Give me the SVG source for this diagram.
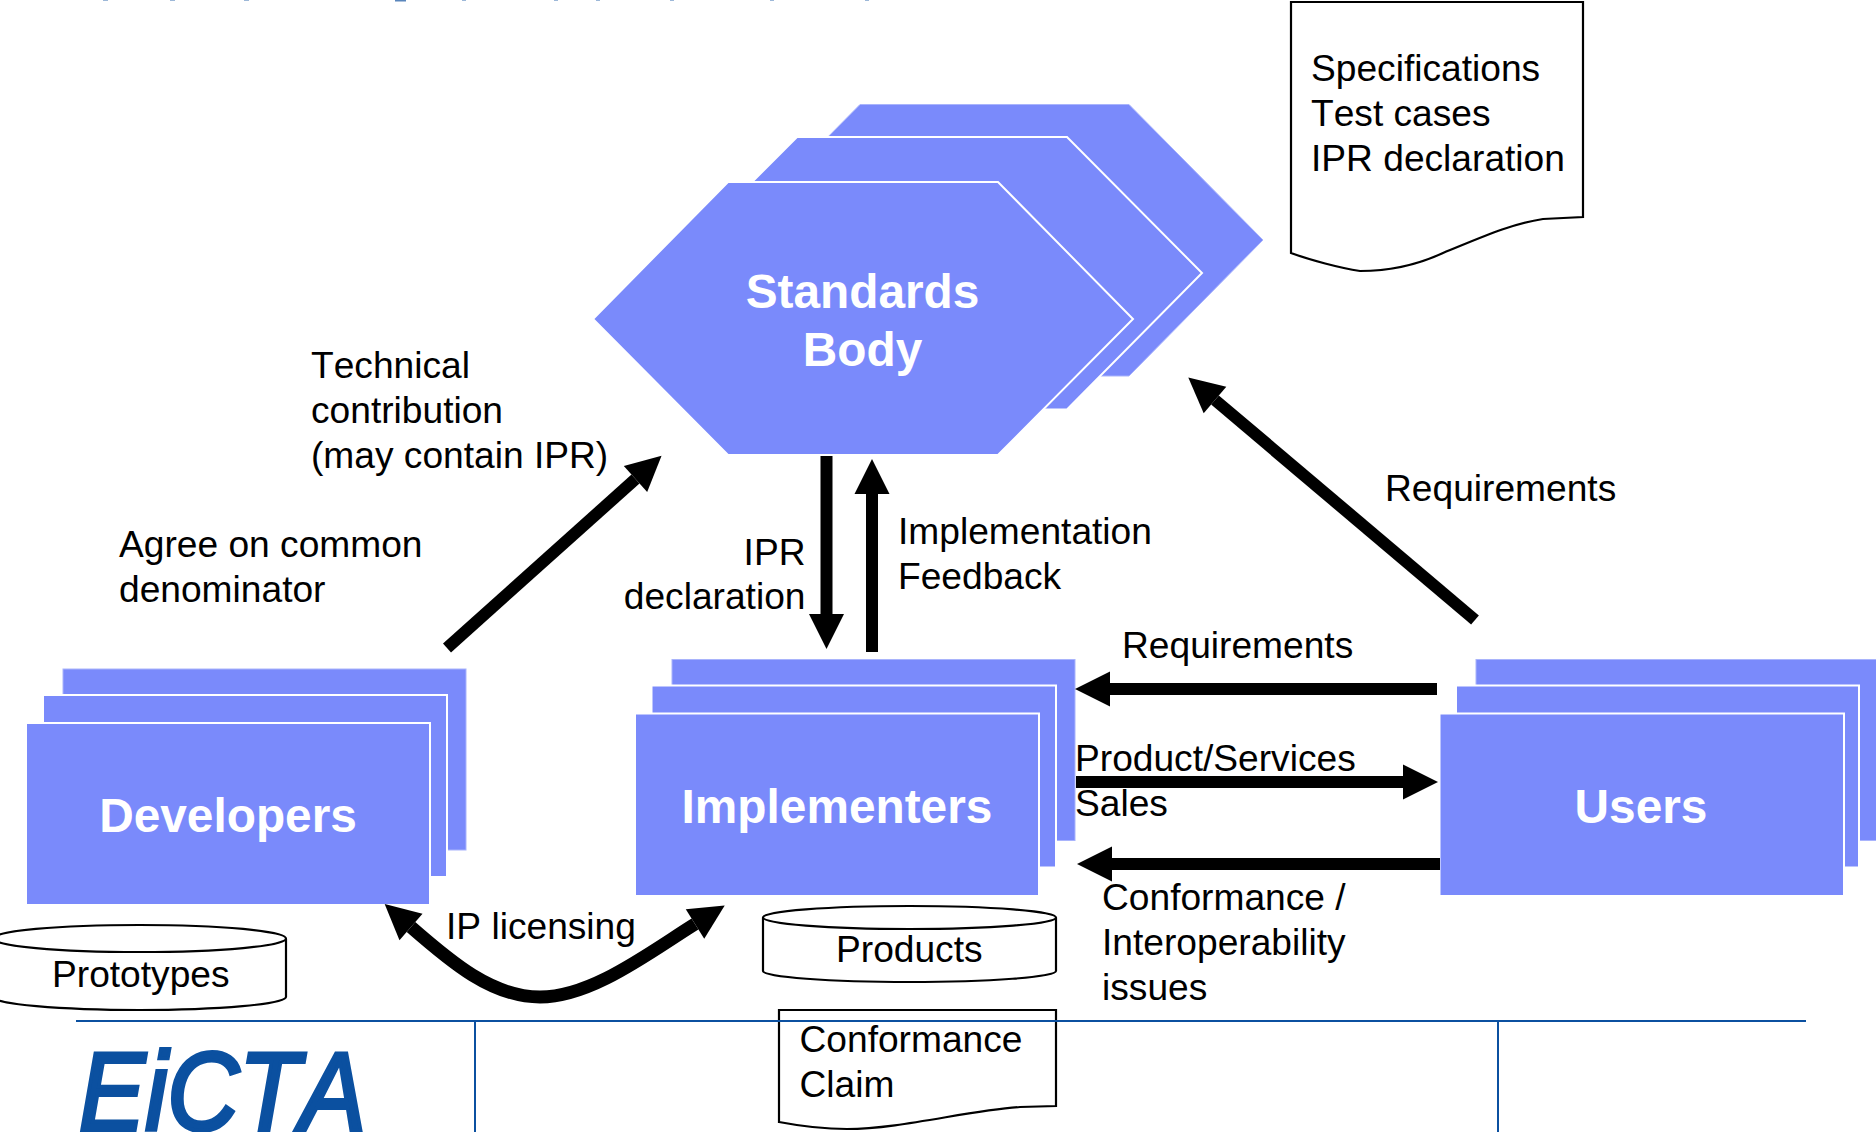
<svg xmlns="http://www.w3.org/2000/svg" width="1876" height="1132" viewBox="0 0 1876 1132">
<style>
text{font-family:"Liberation Sans",Arial,sans-serif;fill:#000;font-kerning:none}
.l{font-size:37.150px}
.n{font-size:47.800px;font-weight:700;fill:#fff;text-anchor:middle}
.s{fill:#7a8afb;stroke:#fff;stroke-width:2}
.b{fill:#7a8afb;stroke:#a9b4fc;stroke-width:1}
.d{fill:#fff;stroke:#000;stroke-width:2.2}
.w{fill:none;stroke:#000;stroke-width:12}
.r{stroke:#0b50a0;fill:none}
</style>
<defs>
<marker id="h" markerUnits="userSpaceOnUse" markerWidth="36" markerHeight="36" refX="0" refY="18" orient="auto-start-reverse" overflow="visible">
<path d="M0,0.5 L35,18 L0,35.5 Z" fill="#000"/>
</marker>
</defs>

<g id="top-marks" fill="#9db8d8">
<rect x="103" y="0" width="5" height="1"/><rect x="170" y="0" width="5" height="1"/><rect x="244" y="0" width="5" height="1"/><rect x="395" y="0" width="11" height="1.500" fill="#5a86bc"/><rect x="462" y="0" width="4" height="1"/><rect x="554" y="0" width="4" height="1"/><rect x="596" y="0" width="4" height="1"/><rect x="670" y="0" width="4" height="1"/><rect x="770" y="0" width="4" height="1"/><rect x="865" y="0" width="4" height="1"/>
</g>

<g id="standards-body">
<polygon class="b" points="726,240 860,104.500 1129,104.500 1263,240 1129,376 860,376"/>
<polygon class="s" points="661,273 797,137 1067,137 1202,273 1067,409.500 797,409.500"/>
<polygon class="s" points="593,319 728,182 998,182 1133,319 998,455 728,455"/>
<text class="n" x="862.500" y="308">Standards</text>
<text class="n" x="862.500" y="366">Body</text>
</g>

<g id="developers">
<rect class="b" x="63" y="669" width="403" height="181"/>
<rect class="s" x="43" y="695" width="404" height="182"/>
<rect class="s" x="26" y="723" width="404" height="182"/>
<text class="n" x="228" y="832">Developers</text>
</g>

<g id="implementers">
<rect class="b" x="672" y="659.500" width="403" height="181"/>
<rect class="s" x="651.500" y="685.500" width="404.500" height="182"/>
<rect class="s" x="635" y="713.500" width="404" height="182.500"/>
<text class="n" x="837" y="823">Implementers</text>
</g>

<g id="users">
<rect class="b" x="1476" y="659.500" width="404" height="181"/>
<rect class="s" x="1456" y="685.500" width="403" height="182"/>
<rect class="s" x="1439.500" y="713.500" width="404.500" height="182.500"/>
<text class="n" x="1641" y="823">Users</text>
</g>

<g id="prototypes">
<path class="d" d="M-7,939 V997 C-7,1004 60,1010 139.500,1010 C219,1010 286,1004 286,997 V939"/>
<ellipse class="d" cx="139.500" cy="938.500" rx="146.500" ry="13.500"/>
<text class="l" x="52" y="987">Prototypes</text>
</g>

<g id="products">
<path class="d" d="M763,917.500 V971 C763,977 830,982 909.500,982 C989,982 1056,977 1056,971 V917.500"/>
<ellipse class="d" cx="909.500" cy="917.500" rx="146.500" ry="11.500"/>
<text class="l" x="836" y="962">Products</text>
</g>

<g id="specifications">
<path class="d" d="M1291,2 H1583 V217 L1543,219 C1510,224 1480,238 1443,253 C1415,266 1390,271 1360,271 C1340,268 1310,260 1291,253 Z"/>
<text class="l"><tspan x="1311" y="81">Specifications</tspan><tspan x="1311" y="126">Test cases</tspan><tspan x="1311" y="171">IPR declaration</tspan></text>
</g>

<g id="conformance-claim">
<path class="d" d="M779,1010 H1056 V1106 L1020,1107 C970,1110 900,1129 847,1129 C825,1129 800,1126 779,1122 Z"/>
<text class="l"><tspan x="799.500" y="1052">Conformance</tspan><tspan x="799.500" y="1097">Claim</tspan></text>
</g>

<g id="footer-rules">
<path class="r" stroke-width="2" d="M76,1021 H1806"/>
<path class="r" stroke-width="2" d="M475,1021 V1132 M1498,1021 V1132"/>
</g>

<g id="logo">
<text x="79" y="1130" font-size="112" font-style="italic" textLength="287" lengthAdjust="spacingAndGlyphs" style="fill:#0b50a0;stroke:#0b50a0;stroke-width:4">EiCTA</text>
</g>

<g id="connectors">
<path class="w" marker-end="url(#h)" d="M447,648 L635.500,479"/>
<path class="w" marker-end="url(#h)" d="M826.500,456 V614"/>
<path class="w" marker-end="url(#h)" d="M872,652 V494"/>
<path class="w" marker-end="url(#h)" d="M1475,620 L1215,400"/>
<path class="w" marker-end="url(#h)" d="M1437,689 H1110"/>
<path class="w" marker-end="url(#h)" d="M1076,782 H1403"/>
<path class="w" marker-end="url(#h)" d="M1440,864 H1112"/>
<path class="w" style="stroke-width:13" marker-start="url(#h)" marker-end="url(#h)" d="M411,927 C451,962 492,997 540,997 C592,997 650,952 695,924"/>
</g>

<g id="labels">
<text class="l"><tspan x="311" y="378">Technical</tspan><tspan x="311" y="423">contribution</tspan><tspan x="311" y="468">(may contain IPR)</tspan></text>
<text class="l"><tspan x="119" y="557">Agree on common</tspan><tspan x="119" y="602">denominator</tspan></text>
<text class="l" text-anchor="end"><tspan x="805.500" y="565">IPR</tspan><tspan x="805.500" y="609">declaration</tspan></text>
<text class="l"><tspan x="898" y="544">Implementation</tspan><tspan x="898" y="589">Feedback</tspan></text>
<text class="l" x="1385" y="501">Requirements</text>
<text class="l" x="1122" y="658">Requirements</text>
<text class="l"><tspan x="1075" y="771">Product/Services</tspan><tspan x="1075" y="816">Sales</tspan></text>
<text class="l"><tspan x="1102" y="910">Conformance /</tspan><tspan x="1102" y="955">Interoperability</tspan><tspan x="1102" y="999.500">issues</tspan></text>
<text class="l" x="446" y="939">IP licensing</text>
</g>
</svg>
